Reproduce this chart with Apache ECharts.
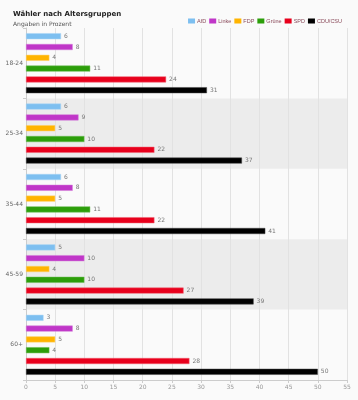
<!DOCTYPE html>
<html><head><meta charset="utf-8">
<script src="https://cdn.jsdelivr.net/npm/echarts@6/dist/echarts.min.js"></script>
<style>html,body{margin:0;padding:0;background:#fafafa}#c{width:358px;height:400px}</style>
</head><body><div id="c"></div>
<script>
const categories = ['18-24', '25-34', '35-44', '45-59', '60+'];
const parties = ['AfD', 'Linke', 'FDP', 'Grüne', 'SPD', 'CDU/CSU'];
const afd   = [6, 6, 6, 5, 3];
const linke = [8, 9, 8, 10, 8];
const fdp   = [4, 5, 5, 4, 5];
const gruene= [11, 10, 11, 10, 4];
const spd   = [24, 22, 22, 27, 28];
const cdu   = [31, 37, 41, 39, 50];
const xTicks = [0, 5, 10, 15, 20, 25, 30, 35, 40, 45, 50, 55];

const values = [afd, linke, fdp, gruene, spd, cdu];
const colors = ['#7dbff0', '#c036c8', '#ffb400', '#2c9e0a', '#e8001c', '#000000'];
const borders = ['#a9d5f5', '#d27ad8', '#ffd066', '#6dbb55', '#f06070', '#444444'];
const font = 'DejaVu Sans, sans-serif';
const font2 = 'Liberation Sans, Arial, sans-serif';

const chart = echarts.init(document.getElementById('c'), null, {renderer: 'canvas'});
chart.setOption({
  backgroundColor: '#fafafa',
  animation: false,
  title: {
    text: 'Wähler nach Altersgruppen',
    subtext: 'Angaben in Prozent',
    left: 8, top: 6,
    itemGap: 3,
    textStyle: {fontFamily: font, fontSize: 7, fontWeight: 'bold', color: '#222'},
    subtextStyle: {fontFamily: font, fontSize: 6, color: '#555'}
  },
  legend: {
    data: parties,
    right: 11, top: 13,
    itemWidth: 7, itemHeight: 5, itemGap: 3,
    icon: 'rect',
    itemStyle: {borderWidth: 0},
    textStyle: {fontFamily: font2, fontSize: 5.5, color: '#8a4a5a', padding: [0, 0, 0, -3]}
  },
  grid: {left: 26, right: 11, top: 28, bottom: 20},
  xAxis: {
    type: 'value', min: 0, max: 55, interval: 5,
    axisLine: {show: true, lineStyle: {color: '#ccc'}},
    axisTick: {show: true, length: 3, lineStyle: {color: '#ccc'}},
    axisLabel: {fontFamily: font, fontSize: 6, color: '#999', margin: 4,
      formatter: v => xTicks.includes(v) ? String(v) : ''},
    splitLine: {show: true, lineStyle: {color: '#e2e2e2'}}
  },
  yAxis: {
    type: 'category', data: categories, inverse: true,
    axisLine: {show: true, lineStyle: {color: '#ccc'}},
    axisTick: {show: true, length: 3, lineStyle: {color: '#ccc'}},
    axisLabel: {fontFamily: font, fontSize: 6, color: '#666', margin: 3},
    splitArea: {show: true, areaStyle: {color: ['rgba(0,0,0,0)', '#ececec']}}
  },
  series: parties.map((p, i) => ({
    name: p, type: 'bar', data: values[i],
    barWidth: 6, barGap: '80%',
    itemStyle: {color: colors[i], borderColor: borders[i], borderWidth: 0.5},
    label: {show: true, position: 'right', distance: 3, fontFamily: font, fontSize: 6, color: '#777'}
  }))
});
</script></body></html>
